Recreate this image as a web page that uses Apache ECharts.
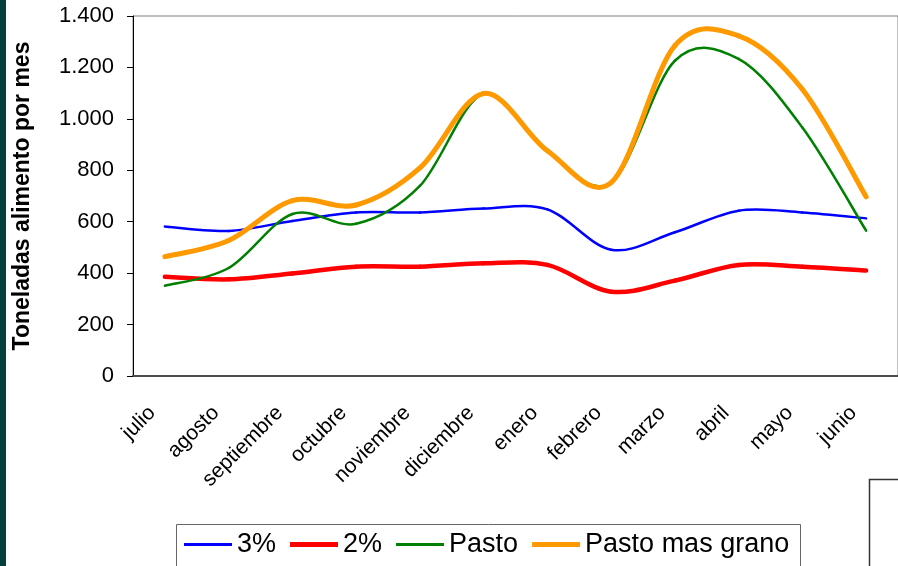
<!DOCTYPE html>
<html>
<head>
<meta charset="utf-8">
<script src="https://cdn.jsdelivr.net/npm/echarts@6/dist/echarts.min.js"></script>
<style>
  html, body { margin: 0; padding: 0; background: #ffffff; }
  #chart { width: 898px; height: 566px; }
</style>
</head>
<body>
<div id="chart"></div>
<script>
// Monthly feed requirement (tonnes per month), July through June
const months = ['julio', 'agosto', 'septiembre', 'octubre', 'noviembre', 'diciembre',
                'enero', 'febrero', 'marzo', 'abril', 'mayo', 'junio'];
const serie3 = [581, 564, 603, 636, 636, 651, 648, 491, 559, 643, 636, 613];
const serie2 = [386, 376, 399, 425, 425, 438, 432, 328, 371, 432, 425, 410];
const pasto = [351, 420, 630, 592, 739, 1097, 876, 752, 1226, 1233, 966, 565];
const pastoGrano = [464, 527, 682, 665, 809, 1099, 876, 752, 1285, 1323, 1115, 697];
const yTicks = [0, 200, 400, 600, 800, 1000, 1200, 1400];

const FONT = '"Liberation Sans", Arial, sans-serif';

function thousands(v) {
  return String(v).replace(/\B(?=(\d{3})+(?!\d))/g, '.');
}

// Smoothed line drawn as Catmull-Rom style cubic segments between
// consecutive points; every point is placed through the axis scales.
function curveSeries(name, values, color, width) {
  const n = values.length;
  return {
    name: name,
    type: 'custom',
    data: values.map(function (v, i) { return [i, v]; }),
    encode: { x: 0, y: 1 },
    itemStyle: { color: color },
    animation: false,
    silent: true,
    renderItem: function (params, api) {
      const i = params.dataIndex;
      if (i >= n - 1) return null;
      const pt = function (k) {
        const j = Math.max(0, Math.min(n - 1, k));
        return api.coord([j, values[j]]);
      };
      const p0 = pt(i - 1), p1 = pt(i), p2 = pt(i + 1), p3 = pt(i + 2);
      const t = 1 / 6;
      return {
        type: 'bezierCurve',
        shape: {
          x1: p1[0], y1: p1[1],
          cpx1: p1[0] + (p2[0] - p0[0]) * t, cpy1: p1[1] + (p2[1] - p0[1]) * t,
          cpx2: p2[0] - (p3[0] - p1[0]) * t, cpy2: p2[1] - (p3[1] - p1[1]) * t,
          x2: p2[0], y2: p2[1]
        },
        style: { stroke: color, lineWidth: width, fill: null, lineCap: 'round', lineJoin: 'round' }
      };
    }
  };
}

// Legend swatches: a horizontal stripe inside a 48x14 box
function stripe(h) {
  const a = (14 - h) / 2, b = a + h;
  return 'path://M0,0L0.001,0L0,0.001Z M0,' + a + 'L48,' + a + 'L48,' + b + 'L0,' + b +
         'Z M48,14L47.999,14L48,13.999Z';
}

const chart = echarts.init(document.getElementById('chart'), null, { renderer: 'canvas' });

chart.setOption({
  backgroundColor: '#ffffff',
  animation: false,
  textStyle: { fontFamily: FONT },
  grid: {
    left: 133, top: 16, width: 769, height: 360,
    show: true, borderColor: '#808080', borderWidth: 1, backgroundColor: 'transparent'
  },
  xAxis: {
    type: 'category',
    data: months,
    boundaryGap: true,
    axisLine: { lineStyle: { color: '#4d4d4d', width: 2 } },
    axisTick: { length: 7, lineStyle: { color: '#4d4d4d', width: 1.5 } },
    axisLabel: {
      rotate: 45, margin: 21, color: '#000000', fontSize: 21, fontFamily: FONT, interval: 0,
      padding: [0, 18, 0, 0]
    },
    splitLine: { show: false }
  },
  yAxis: {
    type: 'value',
    min: yTicks[0], max: yTicks[yTicks.length - 1], interval: 200,
    name: 'Toneladas alimento por mes',
    nameLocation: 'middle',
    nameRotate: 90,
    nameGap: 99,
    nameTextStyle: { color: '#000000', fontSize: 23, fontWeight: 'bold', fontFamily: FONT },
    axisLine: { show: true, lineStyle: { color: '#000000', width: 1 } },
    axisTick: { show: true, length: 6, lineStyle: { color: '#000000', width: 1 } },
    axisLabel: {
      margin: 19, color: '#000000', fontSize: 22, fontFamily: FONT,
      formatter: thousands
    },
    splitLine: { show: false }
  },
  legend: {
    left: 184, top: 531, padding: 0,
    itemWidth: 48, itemHeight: 14, itemGap: 14,
    textStyle: { color: '#000000', fontSize: 27, fontFamily: FONT },
    data: [
      { name: '3%', icon: stripe(3) },
      { name: '2%', icon: stripe(5) },
      { name: 'Pasto', icon: stripe(3) },
      { name: 'Pasto mas grano', icon: stripe(5) }
    ],
    selectedMode: false
  },
  graphic: [
    { type: 'rect', shape: { x: 0, y: 0, width: 6, height: 566 }, style: { fill: '#043f3d' }, z: 100 },
    { type: 'rect', shape: { x: 176.5, y: 524.5, width: 624, height: 60 },
      style: { fill: 'none', stroke: '#666666', lineWidth: 1 }, z: 1 },
    { type: 'rect', shape: { x: 869.5, y: 479.5, width: 60, height: 100 },
      style: { fill: 'none', stroke: '#333333', lineWidth: 1.5 }, z: 1 }
  ],
  series: [
    curveSeries('3%', serie3, '#0000ff', 2.5),
    curveSeries('2%', serie2, '#ff0000', 4.5),
    curveSeries('Pasto', pasto, '#008000', 2.5),
    curveSeries('Pasto mas grano', pastoGrano, '#ff9900', 5)
  ]
});
</script>
</body>
</html>
